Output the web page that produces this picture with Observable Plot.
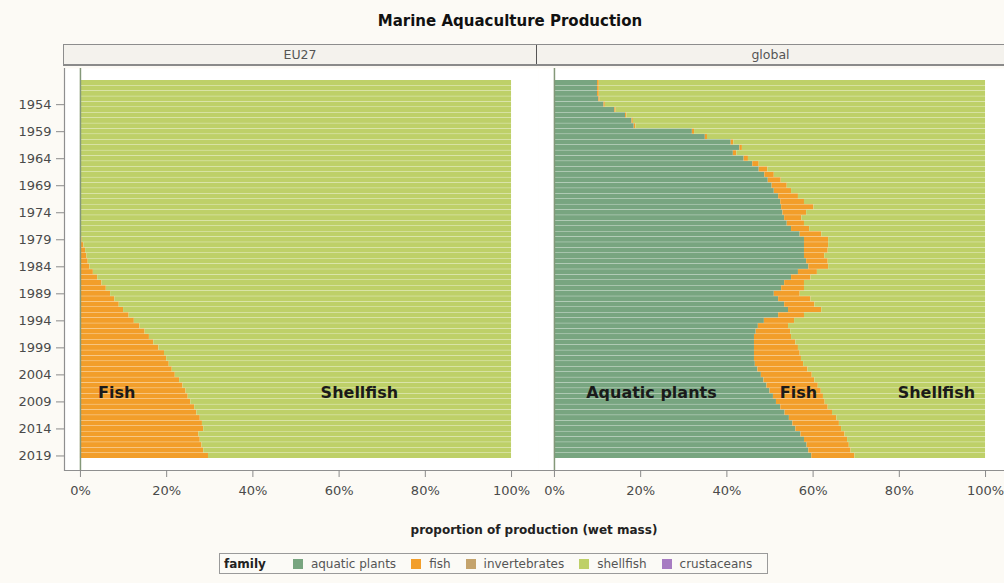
<!DOCTYPE html>
<html>
<head>
<meta charset="utf-8">
<script src="https://cdn.jsdelivr.net/npm/d3@7"></script>
<script src="https://cdn.jsdelivr.net/npm/@observablehq/plot@0.6"></script>
<style>
  html, body { margin: 0; padding: 0; background: #fcfaf5; overflow: hidden; }
  #wrap { position: relative; width: 1004px; height: 583px; overflow: hidden; font-family: "DejaVu Sans", sans-serif; }
  #title { position: absolute; left: 0; width: 1020px; top: 12px; line-height: 18px; text-align: center; font-weight: bold; font-size: 15px; color: #111; }
  #strip { position: absolute; left: 63px; top: 44px; width: 950px; height: 22px; box-sizing: border-box; border: 1px solid #8d8d8d; border-bottom: 2px solid #8a8a8a; background: #f4f2ed; display: flex; }
  #strip div { box-sizing: border-box; height: 100%; line-height: 19px; text-align: center; font-size: 12.5px; color: #555; }
  #strip div:first-child { width: 473px; border-right: 1px solid #555; }
  #strip div:last-child { width: 467px; }
  #chart { position: absolute; left: 0; top: 66px; }
  #xlabel { position: absolute; left: 64px; width: 940px; top: 522px; line-height: 16px; text-align: center; font-weight: bold; font-size: 12px; color: #222; }
  #legend { position: absolute; left: 219px; top: 553px; width: 549px; height: 21px; box-sizing: border-box; border: 1px solid #9a9a9a; background: #fbfaf6; display: flex; align-items: center; padding-left: 4px; font-size: 12px; color: #555; white-space: nowrap; }
  #legend .ttl { font-weight: bold; color: #222; margin-right: 27px; }
  #legend .sw { width: 10px; height: 10px; margin-right: 8px; flex: none; }
  #legend .lb { margin-right: 15px; flex: none; }
</style>
</head>
<body>
<div id="wrap">
  <div id="title"></div>
  <div id="strip"></div>
  <div id="chart"></div>
  <div id="xlabel"></div>
  <div id="legend"></div>
</div>
<script>
// ---------- data ----------
const titleText = "Marine Aquaculture Production";
const xLabelText = "proportion of production (wet mass)";
const legendTitle = "family";
const panels = ["EU27", "global"];
const years = d3.range(1950, 2020);
const families = ["aquatic plants", "fish", "invertebrates", "shellfish", "crustaceans"];
const familyColors = ["#78a580", "#f29e2a", "#c4a36c", "#bed068", "#a77cc2"];
const yearTicks = [1954, 1959, 1964, 1969, 1974, 1979, 1984, 1989, 1994, 1999, 2004, 2009, 2014, 2019];
const pctTicks = [0, 20, 40, 60, 80, 100];

// EU27 (1950..2019), % of production
const eu27Fish = [
  0, 0, 0, 0, 0, 0, 0, 0, 0, 0,
  0, 0, 0, 0, 0, 0, 0, 0, 0, 0,
  0, 0, 0, 0, 0, 0, 0, 0, 0, 0.4,
  0.8, 1.2, 1.5, 1.8, 2.2, 3.0, 4.0, 5.0, 6.0, 7.0,
  8.0, 9.0, 10.0, 11.3, 12.5, 13.8, 15.0, 16.0, 17.0, 18.2,
  19.5, 20.0, 20.6, 21.3, 22.0, 23.0, 23.8, 24.5, 25.0, 25.6,
  26.5, 27.0, 27.8, 28.3, 28.6, 27.5, 27.8, 28.2, 28.6, 29.7
];
const eu27Shellfish = [
  100, 100, 100, 100, 100, 100, 100, 100, 100, 100,
  100, 100, 100, 100, 100, 100, 100, 100, 100, 100,
  100, 100, 100, 100, 100, 100, 100, 100, 100, 99.6,
  99.2, 98.8, 98.5, 98.2, 97.8, 97.0, 96.0, 95.0, 94.0, 93.0,
  92.0, 91.0, 90.0, 88.7, 87.5, 86.2, 85.0, 84.0, 83.0, 81.8,
  80.5, 80.0, 79.4, 78.7, 78.0, 77.0, 76.2, 75.5, 75.0, 74.4,
  73.5, 73.0, 72.2, 71.7, 71.4, 72.5, 72.2, 71.8, 71.4, 70.3
];

// global (1950..2019), % of production
const globalPlants = [
  10.0, 10.0, 10.0, 10.3, 11.5, 14.0, 16.5, 18.0, 18.5, 32.0,
  35.0, 41.0, 43.0, 41.5, 44.0, 46.0, 47.5, 48.8, 49.6, 50.5,
  51.0, 52.0, 52.5, 52.7, 53.0, 53.4, 54.0, 55.0, 57.0, 58.0,
  58.0, 58.0, 58.0, 58.5, 59.0, 56.6, 55.0, 53.4, 52.7, 51.0,
  52.0, 53.4, 54.3, 52.0, 48.7, 47.3, 46.8, 46.4, 46.4, 46.4,
  46.4, 46.4, 46.6, 47.2, 48.0, 48.6, 49.3, 50.0, 50.8, 51.5,
  52.5, 53.5, 54.5, 55.3, 56.0, 57.2, 58.0, 58.6, 59.0, 59.7
];
const globalFish = [
  0.4, 0.4, 0.4, 0.3, 0.3, 0.3, 0.3, 0.3, 0.4, 0.5,
  0.5, 0.6, 0.6, 0.8, 1.0, 1.5, 2.0, 2.2, 3.0, 3.5,
  4.0, 4.6, 5.5, 7.5, 5.5, 4.0, 4.0, 4.2, 5.0, 5.6,
  5.6, 5.5, 4.7, 5.0, 4.6, 4.4, 4.5, 4.6, 5.3, 6.0,
  7.5, 7.0, 7.7, 6.0, 7.0, 7.0, 8.0, 8.6, 9.6, 10.2,
  10.6, 10.9, 11.2, 11.6, 11.8, 11.8, 11.9, 11.9, 11.6, 11.3,
  11.0, 11.0, 11.0, 10.8, 10.6, 10.2, 10.0, 9.8, 9.8, 10.0
];
const globalShellfish = [
  89.6, 89.6, 89.6, 89.4, 88.2, 85.7, 83.2, 81.7, 81.1, 67.5,
  64.5, 58.4, 56.4, 57.7, 55.0, 52.5, 50.5, 49.0, 47.4, 46.0,
  45.0, 43.4, 42.0, 39.8, 41.5, 42.6, 42.0, 40.8, 38.0, 36.4,
  36.4, 36.5, 37.3, 36.5, 36.4, 39.0, 40.5, 42.0, 42.0, 43.0,
  40.5, 39.6, 38.0, 42.0, 44.3, 45.7, 45.2, 45.0, 44.0, 43.4,
  43.0, 42.7, 42.2, 41.2, 40.2, 39.6, 38.8, 38.1, 37.6, 37.2,
  36.5, 35.5, 34.5, 33.9, 33.4, 32.6, 32.0, 31.6, 31.2, 30.3
];

// in-chart annotations (panel, % position, year row)
const labelText = ["Fish", "Shellfish", "Aquatic plants", "Fish", "Shellfish"];
const labelPanel = ["EU27", "EU27", "global", "global", "global"];
const labelPct = [8.4, 64.7, 22.5, 56.6, 88.6];
const labelYear = [2007, 2007, 2007, 2007, 2007];

// ---------- build table ----------
const rows = [];
years.forEach((yr, i) => {
  rows.push({panel: "EU27", year: yr, family: "fish", value: eu27Fish[i]});
  rows.push({panel: "EU27", year: yr, family: "shellfish", value: eu27Shellfish[i]});
  rows.push({panel: "global", year: yr, family: "aquatic plants", value: globalPlants[i]});
  rows.push({panel: "global", year: yr, family: "fish", value: globalFish[i]});
  rows.push({panel: "global", year: yr, family: "shellfish", value: globalShellfish[i]});
});
const labels = labelText.map((t, i) => ({text: t, panel: labelPanel[i], pct: labelPct[i], year: labelYear[i]}));

// ---------- html text ----------
document.getElementById("title").textContent = titleText;
document.getElementById("xlabel").textContent = xLabelText;
const strip = document.getElementById("strip");
panels.forEach(p => { const d = document.createElement("div"); d.textContent = p; strip.appendChild(d); });
const legend = document.getElementById("legend");
{
  const t = document.createElement("span"); t.className = "ttl"; t.textContent = legendTitle; legend.appendChild(t);
  families.forEach((f, i) => {
    const s = document.createElement("span"); s.className = "sw"; s.style.background = familyColors[i]; legend.appendChild(s);
    const l = document.createElement("span"); l.className = "lb"; l.textContent = f; legend.appendChild(l);
  });
}

// ---------- plot ----------
const xDomain = [-3.7, 104.4];
const chart = Plot.plot({
  width: 1004,
  height: 474,
  marginLeft: 64,
  marginRight: 0,
  marginTop: 2,
  marginBottom: 70,
  style: {background: "transparent", fontFamily: "DejaVu Sans, sans-serif", color: "#4a4a4a", overflow: "hidden"},
  fx: {domain: panels, paddingInner: 8 / 474, paddingOuter: 0, round: false, axis: null, label: null},
  x: {domain: xDomain, label: null},
  y: {domain: years, paddingInner: 0.06, paddingOuter: 0, round: false, insetTop: 12, insetBottom: 12, label: null},
  color: {domain: families, range: familyColors},
  marks: [
    Plot.frame({fill: "white", stroke: null, insetRight: -8}),
    Plot.barX(rows, Plot.stackX({
      order: families, fx: "panel", y: "year", x: "value", fill: "family"
    })),
    Plot.ruleX(panels, {fx: d => d, x: () => 0, stroke: "#849879", strokeWidth: 1.5}),
    Plot.ruleX(panels.slice(0, 1), {fx: d => d, x: () => xDomain[0], stroke: "#8f8f8f", strokeWidth: 1.2}),
    Plot.frame({anchor: "bottom", stroke: "#8f8f8f", strokeWidth: 1.2, insetRight: -8}),
    Plot.axisY({ticks: yearTicks, tickFormat: d => String(d), tickSize: 8, tickPadding: 5, fontSize: 13, stroke: "#8a8a8a", label: null}),
    Plot.axisX({ticks: pctTicks, tickFormat: d => d + "%", tickSize: 7, tickPadding: 8, fontSize: 13, stroke: "#8a8a8a", label: null}),
    Plot.text(labels, {
      fx: "panel", x: "pct", y: "year", text: "text",
      fontWeight: "bold", fontSize: 16, fill: "#1a1a1a", dy: 2
    })
  ]
});
document.getElementById("chart").appendChild(chart);
</script>
</body>
</html>
